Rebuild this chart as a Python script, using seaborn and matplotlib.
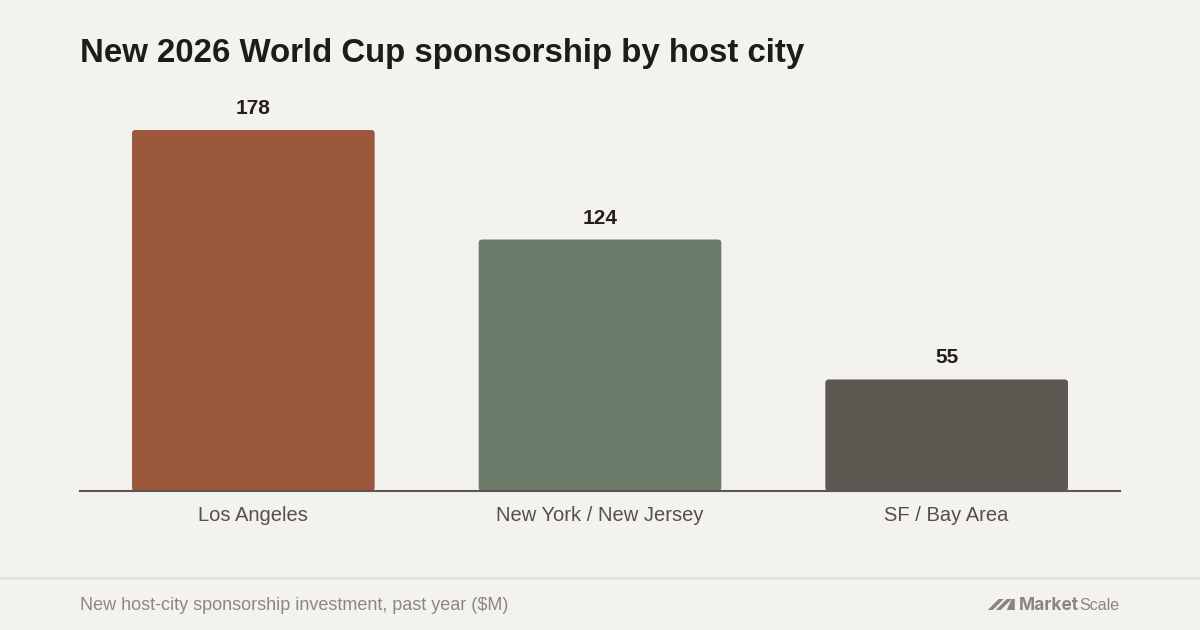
import matplotlib
matplotlib.use("Agg")
import matplotlib.pyplot as plt
import seaborn as sns
import pandas as pd
from matplotlib.patches import FancyBboxPatch, Polygon

# Chart data
cities = ["Los Angeles", "New York / New Jersey", "SF / Bay Area"]
sponsorship_musd = [178, 124, 55]
bar_colors = ["#9a573c", "#6b7b6a", "#5c5750"]

title = "New 2026 World Cup sponsorship by host city"
footnote = "New host-city sponsorship investment, past year ($M)"

BG = "#f4f2ee"

sns.set_theme(style="white")
plt.rcParams["font.family"] = ["Liberation Sans", "DejaVu Sans"]

df = pd.DataFrame({"city": cities, "value": sponsorship_musd})

W, H = 1200, 630
fig = plt.figure(figsize=(12, 6.3), dpi=100, facecolor=BG)
ax = fig.add_axes([80 / W, (H - 491) / H, 1040 / W, 391 / H])
ax.set_facecolor(BG)

sns.barplot(data=df, x="city", y="value", hue="city", palette=bar_colors,
            width=0.7, legend=False, ax=ax, saturation=1)
ax.set_ylim(0, 192.8)
ax.set_xlim(-0.5, len(cities) - 0.5)

# swap plain rectangles for slightly rounded ones
px_per_x = 1040 / 3.0
px_per_y = 391 / 192.8
r = 3.5 / px_per_x
for bar in list(ax.patches):
    x, y = bar.get_x(), bar.get_y()
    w, h = bar.get_width(), bar.get_height()
    fc = bar.get_facecolor()
    bar.remove()
    rb = FancyBboxPatch((x, y), w, h,
                        boxstyle=f"round,pad=0,rounding_size={r}",
                        mutation_aspect=px_per_x / px_per_y,
                        facecolor=fc, edgecolor="none", zorder=2)
    ax.add_patch(rb)
    ax.text(x + w / 2, y + h + 12 / px_per_y, f"{h:.0f}", ha="center", va="bottom",
            fontsize=15, fontweight="bold", color="#23201c")

for s in ["top", "right", "left"]:
    ax.spines[s].set_visible(False)
ax.spines["bottom"].set_color("#5c5650")
ax.spines["bottom"].set_linewidth(1.5)
ax.spines["bottom"].set_zorder(3)
ax.set_yticks([])
ax.set_xlabel("")
ax.set_ylabel("")
ax.tick_params(axis="x", length=0, pad=11, labelsize=14.5, labelcolor="#55504a")

fig.text(80 / W, 1 - 62 / H, title, fontsize=23.8, fontweight="bold",
         color="#1e1c1a", ha="left", va="baseline")

# footer separator
fig.add_artist(plt.Line2D([0, 1], [1 - 578 / H, 1 - 578 / H],
                          color="#e4e1dc", linewidth=2))
fig.text(80 / W, 1 - 610 / H, footnote, fontsize=13, color="#8c8780",
         ha="left", va="baseline")

# MarketScale wordmark, right-aligned at x=1119
logo_color = "#8a8580"
renderer = fig.canvas.get_renderer()
scale_txt = fig.text(1119 / W, 1 - 610 / H, "Scale", fontsize=11.5,
                     color=logo_color, ha="right", va="baseline")
scale_left = scale_txt.get_window_extent(renderer).x0
market_txt = fig.text(scale_left / W, 1 - 610 / H, "Market", fontsize=12.5,
                      fontweight="bold", family=["Inter", "DejaVu Sans"],
                      color=logo_color, ha="right", va="baseline")
mx = market_txt.get_window_extent(renderer).x0 - 4
strokes = [
    [(0, 0), (11, 11), (16, 11), (5, 0)],
    [(8, 0), (19, 11), (24, 11), (13, 0)],
    [(19, 0), (24, 11), (27, 11), (27, 0)],
]
for pts in strokes:
    fig.add_artist(Polygon([((mx - 27 + dx) / W, (H - 610 + dy) / H) for dx, dy in pts],
                           closed=True, facecolor=logo_color, edgecolor="none",
                           transform=fig.transFigure))

fig.savefig("out.png", dpi=100, facecolor=BG)
